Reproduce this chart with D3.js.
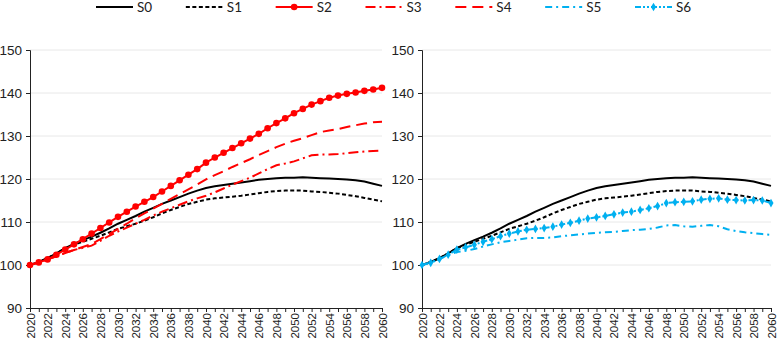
<!DOCTYPE html>
<html lang="en">
<head>
<meta charset="UTF-8">
<title>Scenarios</title>
<script src="https://d3js.org/d3.v7.min.js"></script>
<style>
  body { margin: 0; background: #fff; }
  svg { display: block; font-family: Lato, "DejaVu Sans", sans-serif; }
  .tick text { fill: #222; }
</style>
</head>
<body>
<svg id="chart" width="778" height="343"></svg>
<script>
const years = d3.range(2020, 2061);
const yTicks = [90, 100, 110, 120, 130, 140, 150];

const S0 = [100, 100.7, 101.6, 102.7, 103.9, 104.9, 105.8, 106.6, 107.5, 108.5, 109.6, 110.5, 111.4, 112.4, 113.3, 114.2, 115.0, 115.8, 116.6, 117.3, 117.9, 118.3, 118.6, 118.9, 119.2, 119.5, 119.8, 120.0, 120.2, 120.3, 120.3, 120.4, 120.3, 120.2, 120.1, 120.0, 119.9, 119.7, 119.4, 118.9, 118.4];
const S1 = [100, 100.7, 101.6, 102.7, 103.9, 104.7, 105.4, 106.1, 106.8, 107.6, 108.4, 109.0, 109.6, 110.3, 111.1, 112.0, 112.8, 113.5, 114.2, 114.7, 115.2, 115.5, 115.7, 115.9, 116.1, 116.4, 116.7, 117.0, 117.2, 117.3, 117.3, 117.3, 117.1, 117.0, 116.8, 116.6, 116.3, 116.0, 115.6, 115.2, 114.8];
const S2 = [100, 100.6, 101.3, 102.4, 103.6, 104.8, 106.0, 107.3, 108.6, 109.9, 111.2, 112.4, 113.6, 114.7, 115.8, 117.1, 118.4, 119.7, 121.0, 122.3, 123.8, 125.0, 126.1, 127.2, 128.3, 129.4, 130.5, 131.8, 133.0, 134.1, 135.3, 136.3, 137.3, 138.1, 138.9, 139.4, 139.8, 140.1, 140.5, 140.8, 141.2];
const S3 = [100, 100.6, 101.3, 102.0, 102.8, 103.5, 104.0, 104.5, 105.6, 106.8, 107.8, 108.7, 109.6, 110.5, 111.5, 112.4, 113.2, 114.0, 114.8, 115.5, 116.1, 116.9, 117.8, 118.7, 119.5, 120.3, 121.3, 122.3, 123.2, 123.6, 124.1, 124.8, 125.5, 125.7, 125.7, 125.8, 126.0, 126.2, 126.4, 126.5, 126.6];
const S4 = [100, 100.6, 101.3, 102.0, 102.8, 103.5, 104.2, 104.9, 106.0, 107.2, 108.4, 109.6, 110.9, 112.0, 113.1, 114.2, 115.4, 116.5, 117.6, 118.7, 119.9, 120.9, 121.8, 122.8, 123.7, 124.6, 125.6, 126.5, 127.4, 128.2, 128.9, 129.5, 130.2, 130.9, 131.3, 131.6, 132.1, 132.5, 132.9, 133.2, 133.3];
const S5 = [100, 100.6, 101.4, 102.3, 103.0, 103.3, 103.7, 104.3, 104.8, 105.3, 105.6, 105.9, 106.2, 106.3, 106.3, 106.4, 106.7, 106.9, 107.1, 107.3, 107.5, 107.6, 107.7, 107.9, 108.1, 108.2, 108.4, 108.7, 109.2, 109.3, 109.0, 108.9, 109.1, 109.3, 109.0, 108.3, 107.9, 107.6, 107.4, 107.2, 107.0];
const S6 = [100, 100.5, 101.4, 102.4, 103.6, 104.1, 104.7, 105.4, 106.0, 106.7, 107.3, 107.8, 108.2, 108.4, 108.6, 108.9, 109.4, 109.8, 110.3, 110.8, 111.1, 111.4, 111.8, 112.2, 112.4, 112.8, 113.2, 113.7, 114.4, 114.6, 114.7, 114.8, 115.2, 115.4, 115.5, 115.2, 115.1, 115.0, 115.1, 115.0, 114.4];

const RED = "#ff0000", BLUE = "#00b0f0", BLACK = "#000000";

const styles = {
  S0: {color: BLACK, dash: null, marker: null},
  S1: {color: BLACK, dash: "4,2.5", marker: null},
  S2: {color: RED, dash: null, marker: "circle"},
  S3: {color: RED, dash: "10,4,2,4", marker: null},
  S4: {color: RED, dash: "11,6", marker: null},
  S5: {color: BLUE, dash: "7,4,2,4", marker: null},
  S6: {color: BLUE, dash: "6,2,2,2,2,2", marker: "diamond"}
};
const seriesData = {S0, S1, S2, S3, S4, S5, S6};
const legendNames = ["S0", "S1", "S2", "S3", "S4", "S5", "S6"];

const svg = d3.select("#chart");
const plotTop = 50, plotBottom = 308;

const y = d3.scaleLinear().domain([90, 150]).range([plotBottom, plotTop]);

function drawPanel(left, right, names) {
  const x = d3.scaleLinear().domain([2020, 2060]).range([left, right]);
  const g = svg.append("g");

  // gridlines
  g.selectAll("line.grid")
    .data(yTicks.filter(d => d > 90))
    .enter().append("line")
    .attr("x1", left).attr("x2", right)
    .attr("y1", d => y(d)).attr("y2", d => y(d))
    .attr("stroke", "#e8e8e8").attr("stroke-width", 1);

  const yAxis = d3.axisLeft(y).tickValues(yTicks).tickSize(4).tickPadding(4);
  const ya = g.append("g").attr("transform", "translate(" + left + ",0)").call(yAxis);
  ya.selectAll("text").style("font-size", "13.5px");
  ya.select(".domain").attr("stroke", "#222");
  ya.selectAll(".tick line").attr("stroke", "#222");

  const xAxis = d3.axisBottom(x).tickValues(years).tickSize(4)
    .tickFormat(d => d % 2 === 0 ? d : "");
  const xa = g.append("g").attr("transform", "translate(0," + plotBottom + ")").call(xAxis);
  xa.select(".domain").attr("stroke", "#222");
  xa.selectAll(".tick line").attr("stroke", "#222");
  xa.selectAll("text")
    .style("font-size", "11.5px")
    .attr("text-anchor", "end")
    .attr("transform", "rotate(-90)")
    .attr("x", -5).attr("y", 0).attr("dy", "0.35em");

  const line = d3.line().x((d, i) => x(years[i])).y(d => y(d));

  names.forEach(name => {
    const st = styles[name];
    const vals = seriesData[name];
    g.append("path")
      .datum(vals)
      .attr("fill", "none")
      .attr("stroke", st.color)
      .attr("stroke-width", 2)
      .attr("stroke-dasharray", st.dash)
      .attr("d", line);
    if (st.marker === "circle") {
      g.selectAll(null).data(vals).enter().append("circle")
        .attr("cx", (d, i) => x(years[i])).attr("cy", d => y(d))
        .attr("r", 3.3).attr("fill", st.color);
    } else if (st.marker === "diamond") {
      g.selectAll(null).data(vals).enter().append("path")
        .attr("d", d3.symbol().type(d3.symbolDiamond).size(22))
        .attr("transform", (d, i) => "translate(" + x(years[i]) + "," + y(d) + ")")
        .attr("fill", st.color);
    }
  });
}

drawPanel(30, 382, ["S0", "S1", "S3", "S4", "S2"]);
drawPanel(422, 771, ["S0", "S1", "S5", "S6"]);

// legend
const leg = svg.append("g");
const legX = d3.scaleLinear().domain([0, 6]).range([96, 635]);
legendNames.forEach((name, i) => {
  const st = styles[name];
  const x0 = legX(i);
  leg.append("line")
    .attr("x1", x0).attr("x2", x0 + 37)
    .attr("y1", 7).attr("y2", 7)
    .attr("stroke", st.color).attr("stroke-width", 2)
    .attr("stroke-dasharray", st.dash);
  if (st.marker === "circle") {
    leg.append("circle").attr("cx", x0 + 18.5).attr("cy", 7).attr("r", 3.3).attr("fill", st.color);
  } else if (st.marker === "diamond") {
    leg.append("path").attr("d", d3.symbol().type(d3.symbolDiamond).size(22))
      .attr("transform", "translate(" + (x0 + 18.5) + ",7)").attr("fill", st.color);
  }
  leg.append("text")
    .attr("x", x0 + 41).attr("y", 7).attr("dy", "0.35em")
    .style("font-size", "13.5px").attr("fill", "#222")
    .text(name);
});
</script>
</body>
</html>
